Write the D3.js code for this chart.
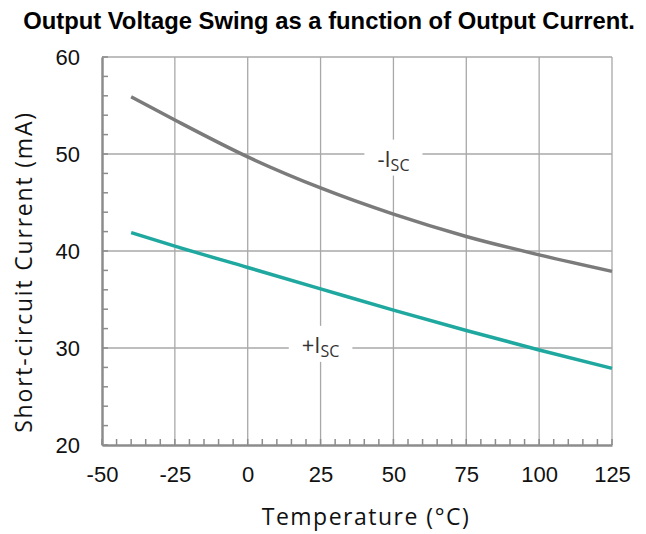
<!DOCTYPE html>
<html>
<head>
<meta charset="utf-8">
<script src="https://cdn.jsdelivr.net/npm/d3@7"></script>
<style>
  body { margin: 0; background: #fff; }
  svg { display: block; }
</style>
</head>
<body>
<div id="chart"></div>
<script>
// data
const temps = [-40, -25, 0, 25, 50, 75, 100, 125]
const negIsc = [55.9, 53.5, 49.7, 46.5, 43.8, 41.5, 39.6, 37.9]
const posIsc = [41.9, 40.5, 38.3, 36.1, 33.9, 31.8, 29.8, 27.9]
const xTicks = [-50, -25, 0, 25, 50, 75, 100, 125]
const yTicks = [20, 30, 40, 50, 60]

const W = 646, H = 534
const margin = { top: 57, right: 34, bottom: 89, left: 102 }
const width = W - margin.left - margin.right
const height = H - margin.top - margin.bottom

const x = d3.scaleLinear().domain([-50, 125]).range([0, width])
const y = d3.scaleLinear().domain([20, 60]).range([height, 0])

const svg = d3.select("#chart").append("svg")
    .attr("width", W)
    .attr("height", H)

svg.append("text")
    .attr("x", 329)
    .attr("y", 29)
    .attr("text-anchor", "middle")
    .style("font-family", "Liberation Sans, Arial, sans-serif")
    .style("font-weight", "bold")
    .style("font-size", "23.8px")
    .text("Output Voltage Swing as a function of Output Current.")

const g = svg.append("g")
    .attr("transform", `translate(${margin.left}, ${margin.top})`)

/* GRID */
g.append("g")
    .selectAll("line")
    .data(xTicks.slice(1))
    .join("line")
    .attr("x1", d => x(d)).attr("x2", d => x(d))
    .attr("y1", 0).attr("y2", height)
    .attr("stroke", "#a8a8a8")
    .attr("stroke-width", 1.3)

g.append("g")
    .selectAll("line")
    .data(yTicks.slice(1))
    .join("line")
    .attr("x1", 0).attr("x2", width)
    .attr("y1", d => y(d)).attr("y2", d => y(d))
    .attr("stroke", "#a8a8a8")
    .attr("stroke-width", 1.3)

/* MINOR TICKS */
const xMinor = d3.range(-50, 126, 5)
const yMinor = d3.range(20, 61, 2)

g.append("g")
    .selectAll("line")
    .data(xMinor)
    .join("line")
    .attr("x1", d => x(d)).attr("x2", d => x(d))
    .attr("y1", height).attr("y2", height - 6)
    .attr("stroke", "#8c8c8c")
    .attr("stroke-width", 1.5)

g.append("g")
    .selectAll("line")
    .data(yMinor)
    .join("line")
    .attr("x1", 0).attr("x2", 6)
    .attr("y1", d => y(d)).attr("y2", d => y(d))
    .attr("stroke", "#8c8c8c")
    .attr("stroke-width", 1.5)

/* AXES */
const xAxis = g.append("g")
    .attr("transform", `translate(0, ${height})`)
    .call(d3.axisBottom(x).tickValues(xTicks).tickFormat(d => d).tickSize(0).tickPadding(21))
xAxis.select(".domain").attr("stroke", "#8c8c8c").attr("stroke-width", 2.5)
xAxis.selectAll(".tick text")
    .style("font-family", "Liberation Sans, Arial, sans-serif")
    .style("font-size", "22px")
    .style("fill", "#111")

const yAxis = g.append("g")
    .call(d3.axisLeft(y).tickValues(yTicks).tickFormat(d => d).tickSize(0).tickPadding(22))
yAxis.select(".domain").attr("stroke", "#8c8c8c").attr("stroke-width", 2.5)
yAxis.selectAll(".tick text")
    .style("font-family", "Liberation Sans, Arial, sans-serif")
    .style("font-size", "22px")
    .style("fill", "#111")

/* LINES */
const line = d3.line()
    .x((d, i) => x(temps[i]))
    .y(d => y(d))
    .curve(d3.curveMonotoneX)

g.append("path")
    .datum(negIsc)
    .attr("fill", "none")
    .attr("stroke", "#7b7b7b")
    .attr("stroke-width", 3.5)
    .attr("d", line)

g.append("path")
    .datum(posIsc)
    .attr("fill", "none")
    .attr("stroke", "#1fa89f")
    .attr("stroke-width", 3.5)
    .attr("d", line)

/* SERIES LABELS */
function addLabel(sign, tx, ty) {
    const lbl = g.append("g").attr("transform", `translate(${x(tx)}, ${y(ty)})`)
    const rect = lbl.append("rect").attr("fill", "#fff")
    const t = lbl.append("text")
        .style("font-family", "Open Sans, sans-serif")
        .style("fill", "#333")
        .attr("text-anchor", "middle")
    t.append("tspan").style("font-size", "22px").text(sign + "I")
    t.append("tspan").style("font-size", "16px").attr("dy", 4).text("SC")
    const b = t.node().getBBox()
    rect.attr("x", b.x - 13).attr("y", -27).attr("width", b.width + 26).attr("height", 36)
}
addLabel("-", 50, 48.7)
addLabel("+", 25, 29.5)

/* AXIS TITLES */
svg.append("text")
    .attr("x", 366)
    .attr("y", 525)
    .attr("text-anchor", "middle")
    .style("font-family", "Open Sans, sans-serif")
    .style("font-size", "23px")
    .style("letter-spacing", "1.5px")
    .style("fill", "#111")
    .text("Temperature (\u00b0C)")

svg.append("text")
    .attr("transform", "translate(32, 272) rotate(-90)")
    .attr("text-anchor", "middle")
    .style("font-family", "Open Sans, sans-serif")
    .style("font-size", "23px")
    .style("letter-spacing", "1.8px")
    .style("fill", "#111")
    .text("Short-circuit Current (mA)")
</script>
</body>
</html>
